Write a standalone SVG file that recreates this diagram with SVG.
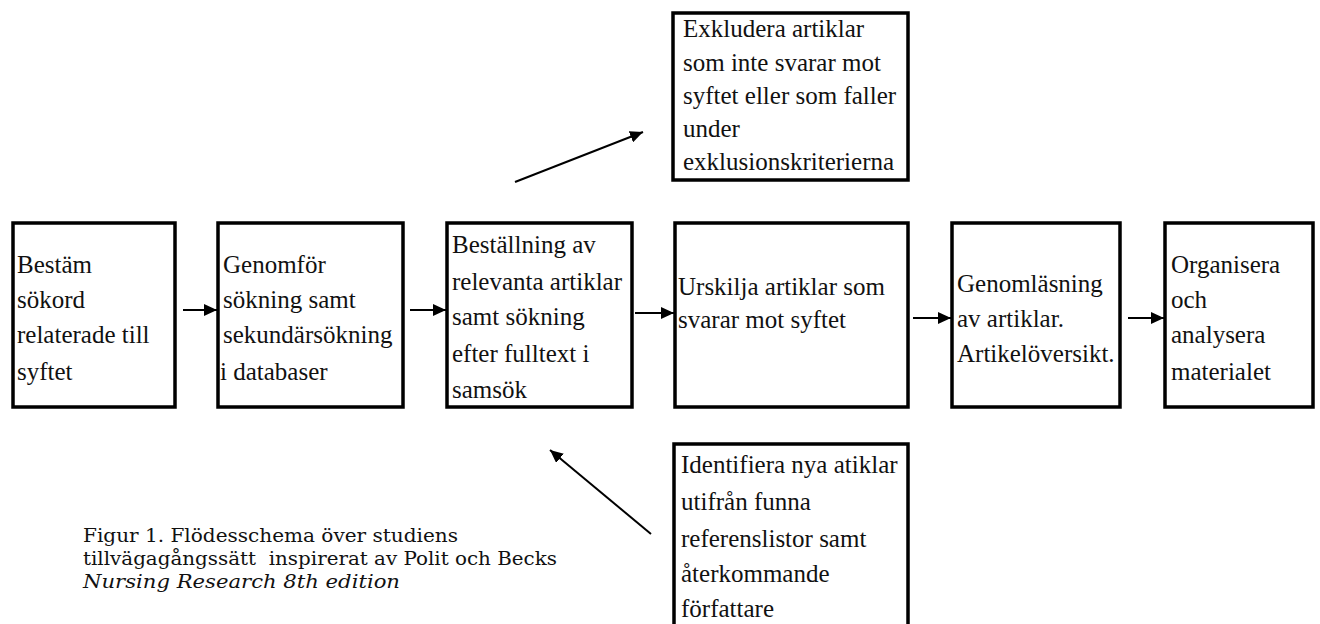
<svg xmlns="http://www.w3.org/2000/svg" width="1320" height="624" viewBox="0 0 1320 624">
  <defs>
    <marker id="ah" markerUnits="userSpaceOnUse" markerWidth="14" markerHeight="12" refX="13" refY="6" orient="auto">
      <path d="M0,0 L13,6 L0,12 Z" fill="#000"/>
    </marker>
    <style>
      .box { fill: #fff; stroke: #000; stroke-width: 3.5; }
      .t { font-family: "Liberation Serif", "Times New Roman", serif; font-size: 25px; fill: #111; }
      .cap { font-family: "DejaVu Serif", "Liberation Serif", serif; font-size: 19px; fill: #111; }
      .conn { stroke: #000; stroke-width: 2; fill: none; marker-end: url(#ah); }
    </style>
  </defs>
  <rect width="1320" height="624" fill="#fff"/>

  <g id="connectors">
    <line class="conn" x1="183" y1="310" x2="217" y2="310"/>
    <line class="conn" x1="410" y1="310" x2="446" y2="310"/>
    <line class="conn" x1="635" y1="313" x2="674" y2="313"/>
    <line class="conn" x1="913" y1="318" x2="951" y2="318"/>
    <line class="conn" x1="1128" y1="318" x2="1164" y2="318"/>
    <line class="conn" x1="515" y1="182" x2="643" y2="132"/>
    <line class="conn" x1="651" y1="534" x2="550" y2="450"/>
  </g>

  <g id="n1">
    <rect class="box" x="13" y="223" width="162" height="184"/>
    <text class="t"><tspan x="17" y="273">Bestäm</tspan><tspan x="17" y="308">sökord</tspan><tspan x="17" y="343">relaterade till</tspan><tspan x="17" y="380">syftet</tspan></text>
  </g>
  <g id="n2">
    <rect class="box" x="218" y="223" width="185" height="184"/>
    <text class="t"><tspan x="223" y="273">Genomför</tspan><tspan x="223" y="308">sökning samt</tspan><tspan x="223" y="343">sekundärsökning</tspan><tspan x="220" y="380">i databaser</tspan></text>
  </g>
  <g id="n3">
    <rect class="box" x="447" y="223" width="185" height="184"/>
    <text class="t"><tspan x="452" y="253">Beställning av</tspan><tspan x="452" y="290">relevanta artiklar</tspan><tspan x="452" y="325">samt sökning</tspan><tspan x="452" y="362">efter fulltext i</tspan><tspan x="452" y="398">samsök</tspan></text>
  </g>
  <g id="n4">
    <rect class="box" x="675" y="223" width="233" height="184"/>
    <text class="t"><tspan x="678" y="295">Urskilja artiklar som</tspan><tspan x="678" y="328">svarar mot syftet</tspan></text>
  </g>
  <g id="n5">
    <rect class="box" x="952" y="223" width="168" height="184"/>
    <text class="t"><tspan x="957" y="292">Genomläsning</tspan><tspan x="957" y="327">av artiklar.</tspan><tspan x="957" y="362">Artikelöversikt.</tspan></text>
  </g>
  <g id="n6">
    <rect class="box" x="1165" y="223" width="148" height="184"/>
    <text class="t"><tspan x="1171" y="273">Organisera</tspan><tspan x="1171" y="308">och</tspan><tspan x="1171" y="343">analysera</tspan><tspan x="1171" y="380">materialet</tspan></text>
  </g>
  <g id="n7">
    <rect class="box" x="673" y="13" width="235" height="167"/>
    <text class="t"><tspan x="683" y="37">Exkludera artiklar</tspan><tspan x="683" y="71">som inte svarar mot</tspan><tspan x="683" y="104">syftet eller som faller</tspan><tspan x="683" y="137">under</tspan><tspan x="683" y="170">exklusionskriterierna</tspan></text>
  </g>
  <g id="n8">
    <rect class="box" x="674" y="444" width="234" height="200"/>
    <text class="t"><tspan x="681" y="473">Identifiera nya atiklar</tspan><tspan x="681" y="510">utifrån funna</tspan><tspan x="681" y="547">referenslistor samt</tspan><tspan x="681" y="582">återkommande</tspan><tspan x="681" y="617">författare</tspan></text>
  </g>

  <g id="caption">
    <text class="cap" x="83" y="542" textLength="375" lengthAdjust="spacingAndGlyphs">Figur 1. Flödesschema över studiens</text>
    <text class="cap" x="83" y="565" textLength="474" lengthAdjust="spacingAndGlyphs" xml:space="preserve">tillvägagångssätt  inspirerat av Polit och Becks</text>
    <text class="cap" x="83" y="588" font-style="italic" textLength="317" lengthAdjust="spacingAndGlyphs">Nursing Research 8th edition</text>
  </g>
</svg>
